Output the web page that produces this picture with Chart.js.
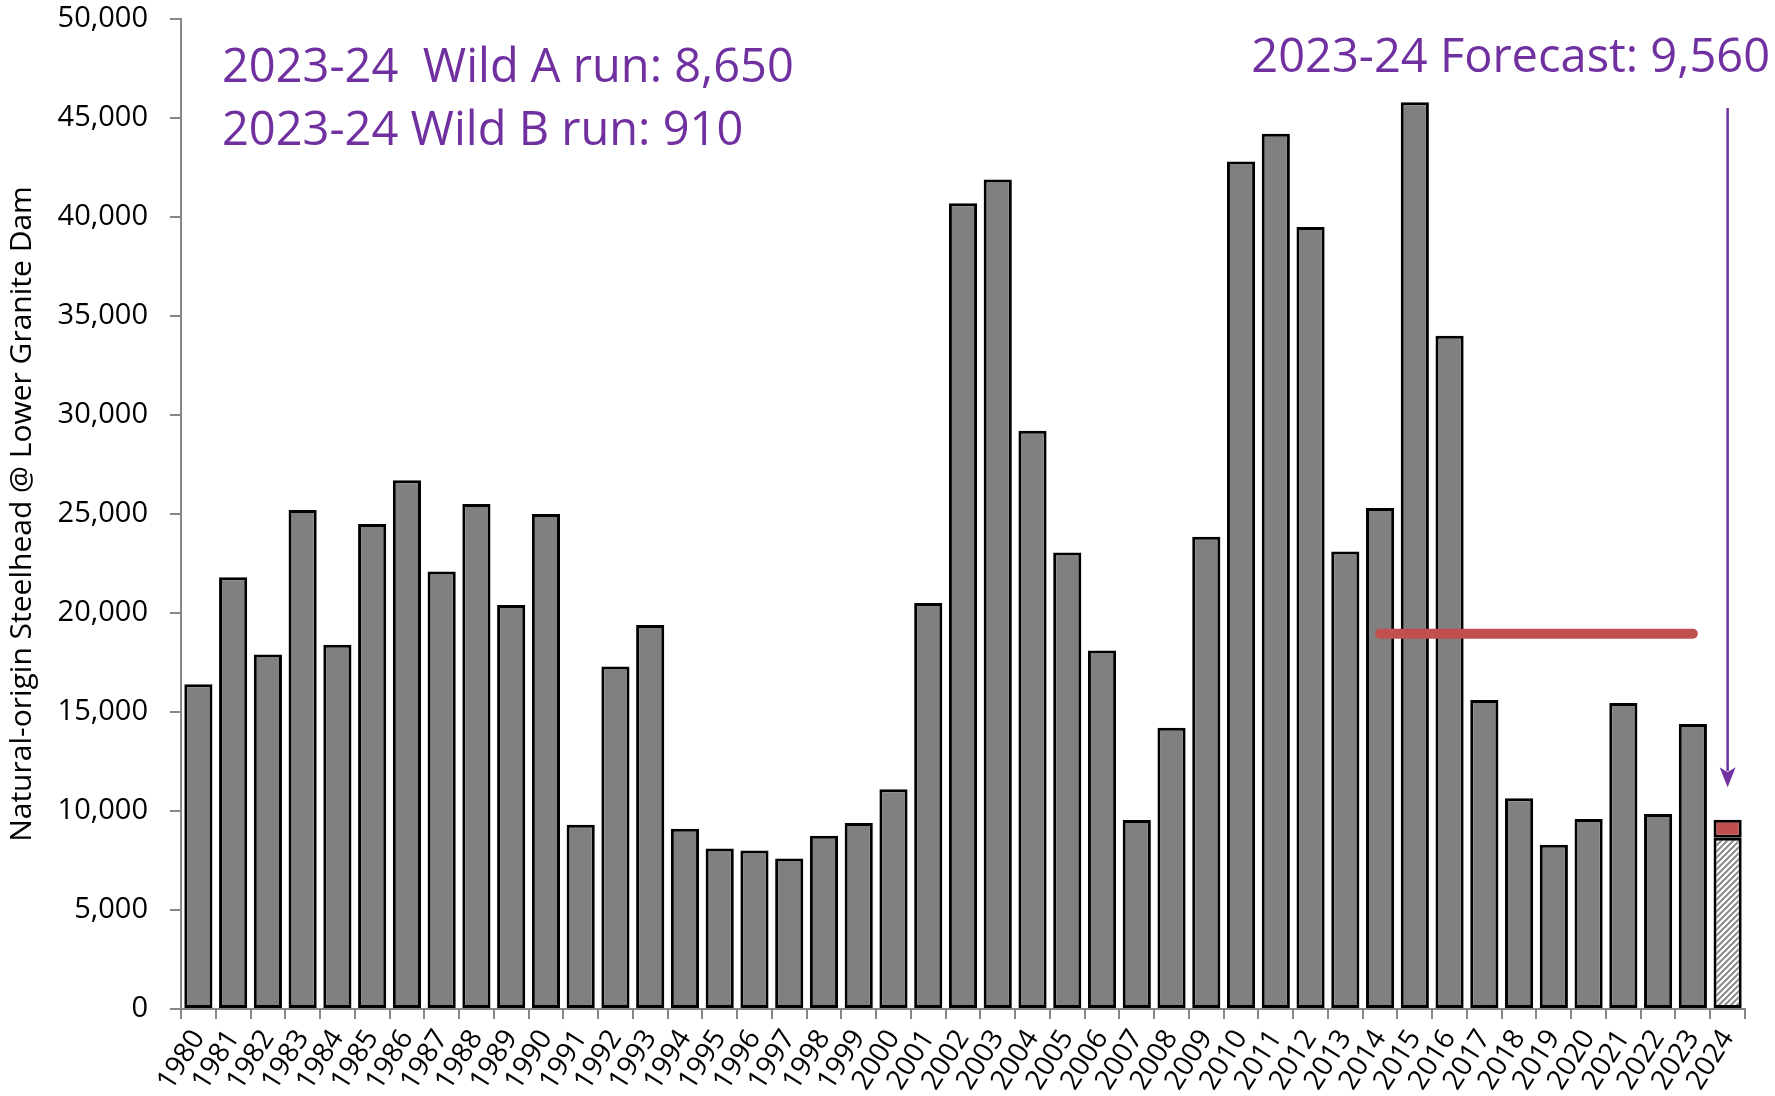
<!DOCTYPE html>
<html>
<head>
<meta charset="utf-8">
<script src="https://cdn.jsdelivr.net/npm/chart.js@4.4.1/dist/chart.umd.min.js"></script>
<style>
  html, body { margin: 0; background: #fff; }
</style>
</head>
<body>
<canvas id="chart" width="1775" height="1096"></canvas>
<script>
const years = ['1980','1981','1982','1983','1984','1985','1986','1987','1988','1989',
  '1990','1991','1992','1993','1994','1995','1996','1997','1998','1999',
  '2000','2001','2002','2003','2004','2005','2006','2007','2008','2009',
  '2010','2011','2012','2013','2014','2015','2016','2017','2018','2019',
  '2020','2021','2022','2023','2024'];

// natural-origin steelhead counts (2024 = Wild A forecast part)
const runSize = [16400, 21800, 17900, 25200, 18400, 24500, 26700, 22100, 25500, 20400,
  25000, 9300, 17300, 19400, 9100, 8100, 8000, 7600, 8750, 9400,
  11100, 20500, 40700, 41900, 29200, 23050, 18100, 9550, 14200, 23850,
  42800, 44200, 39500, 23100, 25300, 45800, 34000, 15600, 10650, 8300,
  9600, 15450, 9850, 14400, 8650];

// Wild B part of the 2024 forecast
const wildB = [null, null, null, null, null, null, null, null, null, null,
  null, null, null, null, null, null, null, null, null, null,
  null, null, null, null, null, null, null, null, null, null,
  null, null, null, null, null, null, null, null, null, null,
  null, null, null, null, 910];

// red reference level, 2014 - 2023
const refLevel = [null, null, null, null, null, null, null, null, null, null,
  null, null, null, null, null, null, null, null, null, null,
  null, null, null, null, null, null, null, null, null, null,
  null, null, null, null, 18950, 18950, 18950, 18950, 18950, 18950,
  18950, 18950, 18950, 18950, null];

const yTicks = [0, 5000, 10000, 15000, 20000, 25000, 30000, 35000, 40000, 45000, 50000];
const notes = ['2023-24  Wild A run: 8,650', '2023-24 Wild B run: 910', '2023-24 Forecast: 9,560'];
const arrowFrom = 45500;
const arrowTo = 11200;

const FONT = "'Open Sans', 'DejaVu Sans', sans-serif";
const PURPLE = '#7030a0';
const RED = '#c0504d';

// gray fill with a faint texture, like the original
function grayFill() {
  const c = document.createElement('canvas');
  c.width = 4; c.height = 4;
  const g = c.getContext('2d');
  g.fillStyle = '#808080';
  g.fillRect(0, 0, 4, 4);
  g.fillStyle = '#7a7a7a';
  g.fillRect(0, 0, 1, 1); g.fillRect(2, 2, 1, 1);
  g.fillStyle = '#868686';
  g.fillRect(2, 0, 1, 1); g.fillRect(0, 2, 1, 1);
  return g.createPattern(c, 'repeat');
}

// diagonal hatch for the forecast bar
function hatchFill() {
  const c = document.createElement('canvas');
  c.width = 6; c.height = 6;
  const g = c.getContext('2d');
  g.fillStyle = '#ffffff';
  g.fillRect(0, 0, 6, 6);
  g.strokeStyle = '#8a8a8a';
  g.lineWidth = 2;
  g.beginPath();
  g.moveTo(-1, 7); g.lineTo(7, -1);
  g.moveTo(-4, 4); g.lineTo(4, -4);
  g.moveTo(2, 10); g.lineTo(10, 2);
  g.stroke();
  return g.createPattern(c, 'repeat');
}

const gray = grayFill();
const hatch = hatchFill();
const barFills = years.map((y, i) => i === years.length - 1 ? hatch : gray);

const annotations = {
  id: 'annotations',
  afterDatasetsDraw(chart) {
    const { ctx, scales: { x, y } } = chart;
    const ax = x.getPixelForValue(years.length - 1);
    const y0 = y.getPixelForValue(arrowFrom);
    const y1 = y.getPixelForValue(arrowTo);
    ctx.save();
    ctx.strokeStyle = PURPLE;
    ctx.fillStyle = PURPLE;
    ctx.lineWidth = 2.5;
    ctx.beginPath();
    ctx.moveTo(ax, y0);
    ctx.lineTo(ax, y1 - 16);
    ctx.stroke();
    ctx.beginPath();
    ctx.moveTo(ax, y1);
    ctx.lineTo(ax - 8, y1 - 20);
    ctx.lineTo(ax, y1 - 15);
    ctx.lineTo(ax + 8, y1 - 20);
    ctx.closePath();
    ctx.fill();

    ctx.font = '47px ' + FONT;
    ctx.textBaseline = 'alphabetic';
    ctx.textAlign = 'left';
    ctx.fillText(notes[0], 222, 82);
    ctx.fillText(notes[1], 222, 145);
    ctx.textAlign = 'right';
    ctx.fillText(notes[2], 1770, 72);
    ctx.restore();
  }
};

new Chart(document.getElementById('chart'), {
  data: {
    labels: years,
    datasets: [
      {
        type: 'line',
        data: refLevel,
        borderColor: RED,
        borderWidth: 10,
        borderCapStyle: 'round',
        pointRadius: 0,
        stack: 'ref',
        order: 0
      },
      {
        type: 'bar',
        data: runSize,
        backgroundColor: barFills,
        borderColor: '#000',
        borderWidth: 3,
        borderSkipped: false,
        stack: 'run',
        order: 1
      },
      {
        type: 'bar',
        data: wildB,
        backgroundColor: RED,
        borderColor: '#000',
        borderWidth: 3,
        borderSkipped: false,
        stack: 'run',
        order: 2
      }
    ]
  },
  options: {
    responsive: false,
    animation: false,
    layout: { padding: { top: 19, right: 30, left: 0, bottom: 0 } },
    datasets: { bar: { categoryPercentage: 1, barPercentage: 0.81 } },
    plugins: { legend: { display: false }, tooltip: { enabled: false } },
    scales: {
      x: {
        stacked: true,
        offset: true,
        grid: { offset: true, drawOnChartArea: false, tickLength: 10, color: '#868686', lineWidth: 2 },
        border: { color: '#868686', width: 2 },
        ticks: {
          autoSkip: false,
          minRotation: 58,
          maxRotation: 58,
          padding: 5,
          color: '#000',
          font: { family: FONT, size: 28 }
        },
        afterFit(scale) { scale.height = 87; }
      },
      y: {
        stacked: true,
        min: 0,
        max: 50000,
        afterBuildTicks(scale) { scale.ticks = yTicks.map(v => ({ value: v })); },
        grid: { drawOnChartArea: false, tickLength: 11, color: '#868686', lineWidth: 2 },
        border: { color: '#868686', width: 2 },
        ticks: {
          padding: 22,
          color: '#000',
          font: { family: FONT, size: 29 },
          callback: v => v.toLocaleString('en-US')
        },
        title: {
          display: true,
          text: 'Natural-origin Steelhead @ Lower Granite Dam',
          color: '#000',
          font: { family: FONT, size: 30 },
          padding: { top: 4, bottom: 4 }
        },
        afterFit(scale) {
          scale.width = 181;
          scale.paddingTop = 0;
          scale.paddingBottom = 0;
        }
      }
    }
  },
  plugins: [annotations]
});
</script>
</body>
</html>
